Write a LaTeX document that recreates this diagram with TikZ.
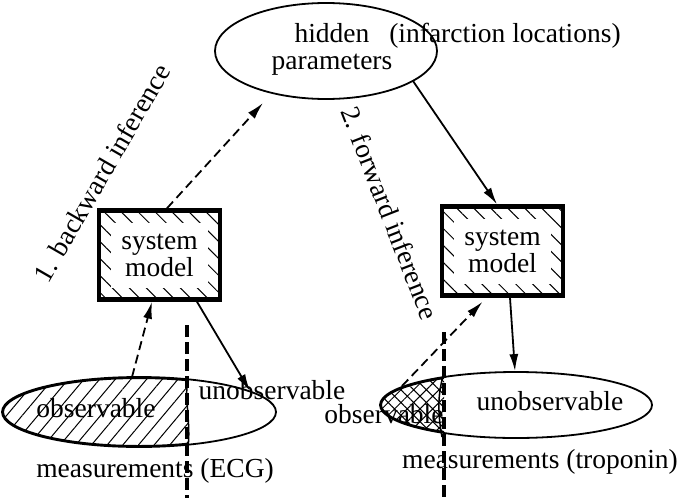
\documentclass[tikz,border=0pt]{standalone}
\usepackage{fontspec}
\setmainfont{Liberation Serif}
\usetikzlibrary{arrows.meta,patterns.meta,calc,shapes.geometric}
\begin{document}
\begin{tikzpicture}[x=1pt,y=-1pt,
  lab/.style={font=\fontsize{27.5}{27}\selectfont, inner sep=0pt},
  oval/.style={draw, ellipse, line width=1.8pt, inner sep=0pt},
  solidarrow/.style={line width=1.8pt, -{Latex[length=17pt,width=9pt]}},
  dasharrow/.style={solidarrow, dash pattern=on 9pt off 5pt},
  vdash/.style={line width=4.5pt, dash pattern=on 12pt off 5pt},
  modelbox/.style={draw, line width=4.5pt, minimum width=121pt, minimum height=89pt,
    inner sep=0pt, align=center, lab,
    preaction={pattern={Lines[angle=-45,distance=12pt,line width=1pt]}},
    path picture={\fill[white] ($(path picture bounding box.north west)+(12pt,-12pt)$)
      rectangle ($(path picture bounding box.south east)+(-12pt,12pt)$);}}]
\useasboundingbox (0,0) rectangle (685,498);

% hatched part of the ECG measurements
\begin{scope}
  \clip (139,412) ellipse [x radius=137, y radius=35];
  \clip (0,360) rectangle (188,460);
  \fill[pattern={Lines[angle=50,distance=12pt,line width=1pt]}] (0,360) rectangle (188,460);
  \draw[line width=4pt] (139,412) ellipse [x radius=137, y radius=35];
\end{scope}
\draw[line width=1.5pt] (188,377) .. controls (184,395) and (191,425) .. (188,447);

% cross-hatched part of the troponin measurements
\begin{scope}
  \clip (516,405) ellipse [x radius=136, y radius=33];
  \clip (0,360) rectangle (444,460);
  \fill[pattern={Hatch[angle=45,distance=9pt,line width=1pt]}] (360,360) rectangle (444,460);
  \draw[line width=4pt] (516,405) ellipse [x radius=136, y radius=33];
\end{scope}
\draw[line width=1.5pt] (444,373) .. controls (437,395) and (438,415) .. (442,437);

% nodes
\node[oval, minimum width=222pt, minimum height=96pt] (hid) at (326,51) {};
\node[lab, align=center] (hidtxt) at (332,49.5) {hidden\\parameters};
\node[lab, anchor=base] (infl) at (505,42) {(infarction locations)};

\node[modelbox] (sml) at (159.5,255) {system\\model};
\node[modelbox] (smr) at (502.5,251) {system\\model};

\node[oval, minimum width=274pt, minimum height=70pt] (ell) at (139,412) {};
\node[oval, minimum width=272pt, minimum height=66pt] (elr) at (516,405) {};

\node[lab, anchor=base] (obsl) at (96,417) {observable};
\node[lab, anchor=base] (unobsl) at (272,399) {unobservable};
\node[lab, anchor=base] (measl) at (155,477) {measurements (ECG)};
\node[lab, anchor=base] (unobsr) at (550,410) {unobservable};
\node[lab, anchor=base] (obsr) at (384,423) {observable};
\node[lab, anchor=base] (measr) at (540,468) {measurements (troponin)};

\node[lab, rotate=60] (back) at (102,173) {1. backward inference};
\node[lab, rotate=-68.7] (fwd) at (390,213) {2. forward inference};

% observability borders
\draw[vdash] (187,325) -- (187,498);
\draw[vdash] (444,332) -- (444,498);

% connectors
\draw[dasharrow] ($(sml.north)+(7.5,0)$) -- ($(hid.center)+(-63,52)$);
\draw[solidarrow] ($(hid.center)+(87,30)$) -- ($(smr.north)+(-5.5,0)$);
\draw[dasharrow] ($(ell.center)+(-7,-35)$) -- ($(sml.south)+(-7.5,0)$);
\draw[solidarrow] ($(sml.south)+(37.5,0)$) -- ($(ell.center)+(111,-21)$);
\draw[dasharrow] ($(elr.center)+(-114,-19)$) -- ($(smr.south)+(-20,4)$);
\draw[solidarrow] ($(smr.south)+(7.5,0)$) -- ($(elr.north)+(-1,0)$);
\end{tikzpicture}
\end{document}
